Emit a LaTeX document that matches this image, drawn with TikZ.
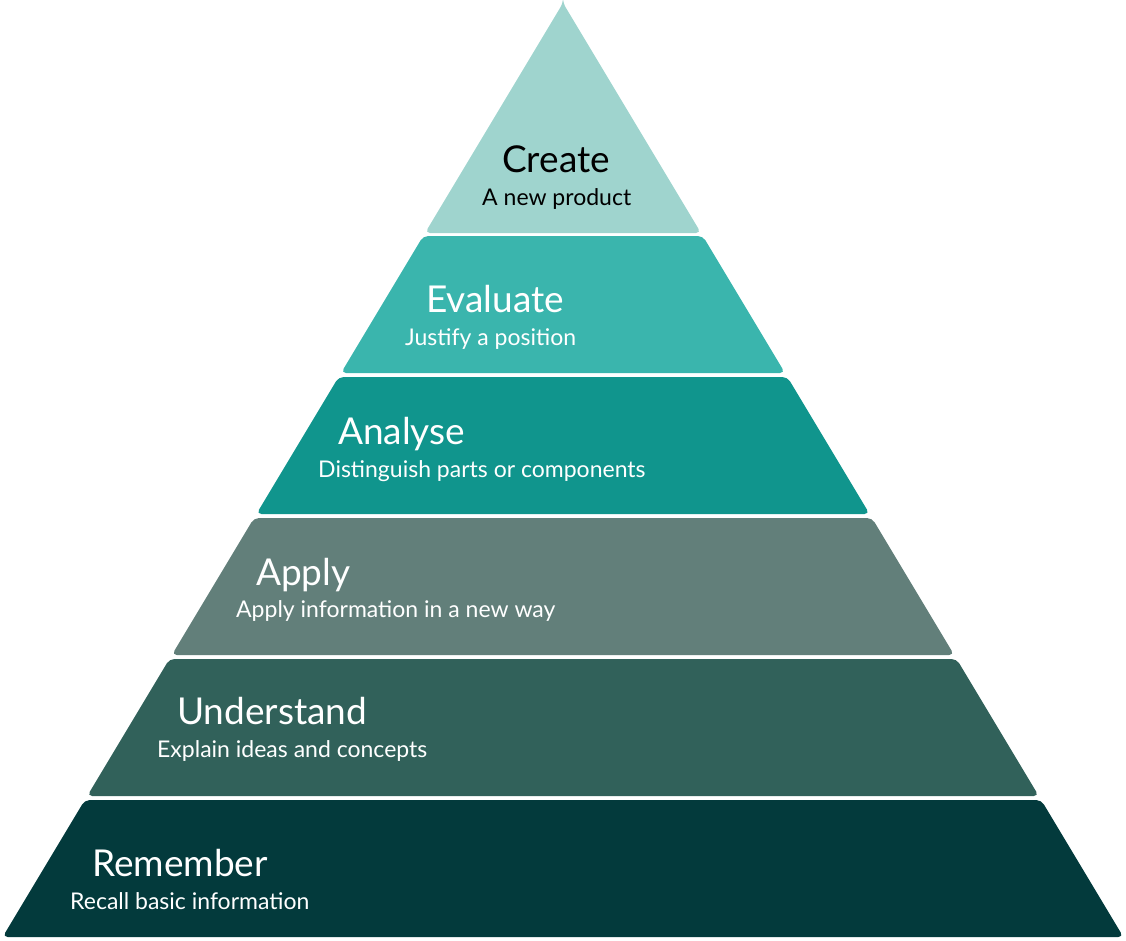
\documentclass[tikz,border=0pt]{standalone}
\usepackage{fontspec}
\setmainfont{Lato}
\definecolor{createc}{HTML}{9FD4CE}
\definecolor{evaluatec}{HTML}{3AB5AD}
\definecolor{analysec}{HTML}{10958D}
\definecolor{applyc}{HTML}{627F7A}
\definecolor{understandc}{HTML}{31615A}
\definecolor{rememberc}{HTML}{033A3C}
\tikzset{
  title/.style={anchor=base west, inner sep=0pt, font=\fontsize{37}{40}\selectfont},
  sub/.style={anchor=base west, inner sep=0pt, font=\fontsize{23}{26}\selectfont},
}
\begin{document}
\begin{tikzpicture}[x=1pt,y=-1pt]
                \useasboundingbox (0,0) rectangle (1126,940);

                \foreach \ytop/\ybot/\col in {3/233/createc, 236/373/evaluatec, 377/514/analysec, 518/655/applyc, 659/796/understandc, 800/937/rememberc}
                {
                \pgfmathsetmacro{\wt}{0.6*(\ytop-3)}
                \pgfmathsetmacro{\wb}{0.6*(\ybot-3)}
                \fill[\col, rounded corners=5pt] (563-\wt,\ytop) -- (563+\wt,\ytop) -- (563+\wb,\ybot) -- (563-\wb,\ybot) -- cycle;
                }

                \node[title] (create) at (502,172) {Create};
                \node[sub] (createsub) at (482,205) {A new product};
                \node[title, white] (evaluate) at (426,312) {Evaluate};
                \node[sub, white] (evaluatesub) at (405,345) {Justify a position};
                \node[title, white] (analyse) at (338,444) {Analyse};
                \node[sub, white] (analysesub) at (318,477) {Distinguish parts or components};
                \node[title, white] (apply) at (256,585) {Apply};
                \node[sub, white] (applysub) at (236,617) {Apply information in a new way};
                \node[title, white] (understand) at (177,724) {Understand};
                \node[sub, white] (understandsub) at (157,757) {Explain ideas and concepts};
                \node[title, white] (remember) at (92,876) {Remember};
                \node[sub, white] (remembersub) at (70,909) {Recall basic information};
            \end{tikzpicture}
\end{document}
